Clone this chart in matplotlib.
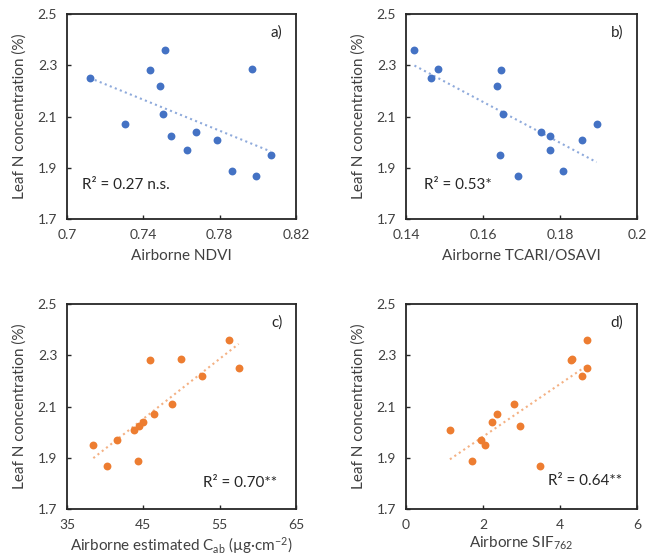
import numpy as np
import matplotlib
matplotlib.use("Agg")
import matplotlib.pyplot as plt

plt.rcParams['font.family'] = ['Lato', 'DejaVu Sans']
plt.rcParams['mathtext.default'] = 'regular'

# Leaf N concentration (%) - same plots in every panel
leaf_n = [2.25, 2.07, 2.28, 2.36, 2.22, 2.11, 2.025, 1.97, 2.04, 2.007, 1.887, 2.285, 1.867, 1.951]

# airborne predictors, same order as leaf_n
ndvi = [0.7119, 0.7303, 0.7434, 0.7516, 0.7486, 0.7504, 0.7547, 0.7630, 0.7675, 0.7784, 0.7866, 0.7971, 0.7990, 0.8067]
tcari_osavi = [0.1465, 0.1895, 0.1646, 0.1422, 0.1636, 0.1652, 0.1775, 0.1775, 0.1750, 0.1858, 0.1807, 0.1483, 0.1690, 0.1644]
cab = [57.48, 46.46, 45.93, 56.21, 52.75, 48.77, 44.45, 41.56, 44.97, 43.75, 44.36, 50.0, 40.25, 38.45]
sif762 = [4.712, 2.369, 4.288, 4.712, 4.565, 2.801, 2.965, 1.945, 2.239, 1.141, 1.712, 4.323, 3.476, 2.040]

BLUE = '#4472C4'
ORANGE = '#ED7D31'
TEXT = '#404040'

panels = [
    # x, color, xlim, xticks, tick labels, xlabel, r2 text, r2 pos, tag
    (ndvi, BLUE, (0.7, 0.82), [0.7, 0.74, 0.78, 0.82], ['0.7', '0.74', '0.78', '0.82'],
     'Airborne NDVI', 'R² = 0.27 n.s.', (0.067, 0.166), 'a)'),
    (tcari_osavi, BLUE, (0.14, 0.2), [0.14, 0.16, 0.18, 0.2], ['0.14', '0.16', '0.18', '0.2'],
     'Airborne TCARI/OSAVI', 'R² = 0.53*', (0.079, 0.166), 'b)'),
    (cab, ORANGE, (35, 65), [35, 45, 55, 65], ['35', '45', '55', '65'],
     r'Airborne estimated C$_{ab}$ (µg·cm$^{-2}$)', 'R² = 0.70**', (0.595, 0.125), 'c)'),
    (sif762, ORANGE, (0, 6), [0, 2, 4, 6], ['0', '2', '4', '6'],
     r'Airborne SIF$_{762}$', 'R² = 0.64**', (0.615, 0.137), 'd)'),
]

W, H = 657, 558
boxes = [(67, 14, 296, 219), (406, 14, 637, 219), (67, 304, 296, 509), (406, 304, 637, 509)]

fig = plt.figure(figsize=(W / 100, H / 100), dpi=100)

for i, ((x, color, xlim, xticks, xtl, xlabel, r2, r2pos, tag), (l, t, r, b)) in enumerate(zip(panels, boxes)):
    ax = fig.add_axes([l / W, 1 - b / H, (r - l) / W, (b - t) / H])
    ax.scatter(x, leaf_n, s=32, color=color, zorder=3, linewidths=0)

    # linear trend line across the data range
    k, c0 = np.polyfit(x, leaf_n, 1)
    xs = np.array([min(x), max(x)])
    ax.plot(xs, k * xs + c0, color=color, alpha=0.6, lw=1.5, ls=(0, (1, 1.6)), zorder=2)

    ax.set_xlim(*xlim)
    ax.set_ylim(1.7, 2.5)
    ax.set_xticks(xticks)
    ax.set_xticklabels(xtl)
    ax.set_yticks([1.7, 1.9, 2.1, 2.3, 2.5])
    ax.set_yticklabels(['1.7', '1.9', '2.1', '2.3', '2.5'])
    ax.tick_params(direction='in', length=3, width=1, colors='#262626',
                   labelcolor=TEXT, labelsize=10, pad=7)
    for s in ax.spines.values():
        s.set_color('#262626')
        s.set_linewidth(1.3)

    ax.set_xlabel(xlabel, fontsize=11, color=TEXT, labelpad=6 if i < 2 else 3)
    ax.set_ylabel('Leaf N concentration (%)', fontsize=11, color=TEXT, labelpad=8)
    ax.text(r2pos[0], r2pos[1], r2, transform=ax.transAxes, fontsize=11,
            color='#262626', va='center', ha='left')
    ax.text(0.94, 0.91, tag, transform=ax.transAxes, fontsize=11,
            color='#262626', va='center', ha='right')

fig.savefig('out.png', dpi=100)
